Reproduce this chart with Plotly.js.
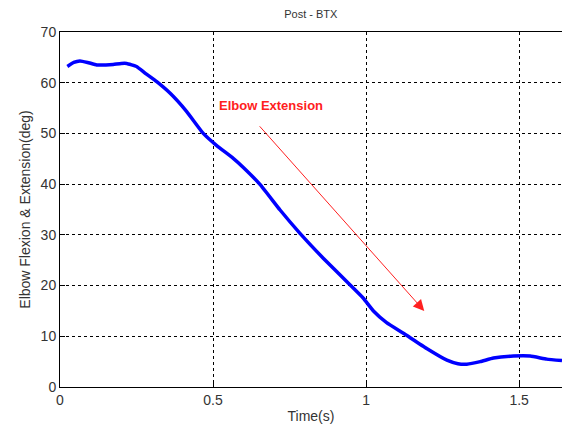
<!DOCTYPE html>
<html>
<head>
<meta charset="utf-8">
<script src="https://cdn.plot.ly/plotly-3.0.1.min.js"></script>
<style>html,body{margin:0;padding:0;background:#fff;}#chart{width:562px;height:430px;}</style>
</head>
<body>
<div id="chart"></div>
<script>
const timeS = [0.024, 0.045, 0.065, 0.09, 0.12, 0.15, 0.174, 0.2, 0.218, 0.25, 0.28, 0.316, 0.36, 0.414, 0.468, 0.512, 0.566, 0.599, 0.654, 0.719, 0.784, 0.86, 0.948, 0.991, 1.024, 1.067, 1.122, 1.198, 1.264, 1.3, 1.329, 1.373, 1.416, 1.481, 1.536, 1.59, 1.64];
const angleDeg = [63.2, 64.0, 64.3, 64.0, 63.5, 63.5, 63.6, 63.8, 63.8, 63.2, 61.8, 60.2, 57.9, 54.3, 50.0, 47.6, 45.1, 43.3, 39.9, 34.9, 30.3, 25.4, 20.1, 17.5, 15.0, 12.7, 10.6, 7.6, 5.3, 4.6, 4.5, 5.0, 5.7, 6.1, 6.1, 5.5, 5.2];
const xTicks = [0, 0.5, 1, 1.5];
const xTickLabels = ['0', '0.5', '1', '1.5'];
const yTicks = [0, 10, 20, 30, 40, 50, 60, 70];
const arrowStart = [0.648, 51.7];
const arrowEnd = [1.19, 15.0];
const labelPos = [0.512, 55.6];

const tickFont = {family: 'Liberation Sans, Arial, sans-serif', size: 14, color: '#333'};

Plotly.newPlot('chart', [{
  x: timeS, y: angleDeg, type: 'scatter', mode: 'lines',
  line: {color: '#0000ff', width: 3.5, shape: 'spline', smoothing: 0.35},
  hoverinfo: 'skip'
}], {
  width: 562, height: 430,
  margin: {l: 60, r: 0, t: 32, b: 43},
  paper_bgcolor: '#fff', plot_bgcolor: '#fff',
  showlegend: false,
  title: {text: 'Post - BTX', font: {family: 'Liberation Sans, Arial, sans-serif', size: 11, color: '#333'}, x: 0.553, xanchor: 'center', y: 0.968, yanchor: 'middle'},
  xaxis: {
    range: [0, 1.64], tickvals: xTicks, ticktext: xTickLabels,
    showgrid: true, gridcolor: '#000', gridwidth: 1, griddash: '3px,3px',
    zeroline: false, showline: true, linecolor: '#000', linewidth: 1, mirror: true,
    ticks: 'inside', ticklen: 5, tickcolor: '#000',
    tickfont: tickFont,
    title: {text: 'Time(s)', font: {family: 'Liberation Sans, Arial, sans-serif', size: 14, color: '#333'}, standoff: 4}
  },
  yaxis: {
    range: [0, 70], tickvals: yTicks,
    showgrid: true, gridcolor: '#000', gridwidth: 1, griddash: '3px,3px',
    zeroline: false, showline: true, linecolor: '#000', linewidth: 1, mirror: true,
    ticks: 'inside', ticklen: 5, tickcolor: '#000',
    tickfont: tickFont,
    title: {text: 'Elbow Flexion & Extension(deg)', font: {family: 'Liberation Sans, Arial, sans-serif', size: 14, color: '#333'}, standoff: 6}
  },
  annotations: [
    {x: arrowEnd[0], y: arrowEnd[1], ax: arrowStart[0], ay: arrowStart[1], xref: 'x', yref: 'y', axref: 'x', ayref: 'y',
     showarrow: true, arrowhead: 2, arrowsize: 2.2, arrowwidth: 1, arrowcolor: '#ff2020', text: ''},
    {x: labelPos[0], y: labelPos[1], xref: 'x', yref: 'y', text: '<b>Elbow Extension</b>', showarrow: false,
     xanchor: 'left', yanchor: 'middle', font: {family: 'Liberation Sans, Arial, sans-serif', size: 13, color: '#ff2020'}}
  ]
}, {staticPlot: true, displayModeBar: false});
</script>
</body>
</html>
